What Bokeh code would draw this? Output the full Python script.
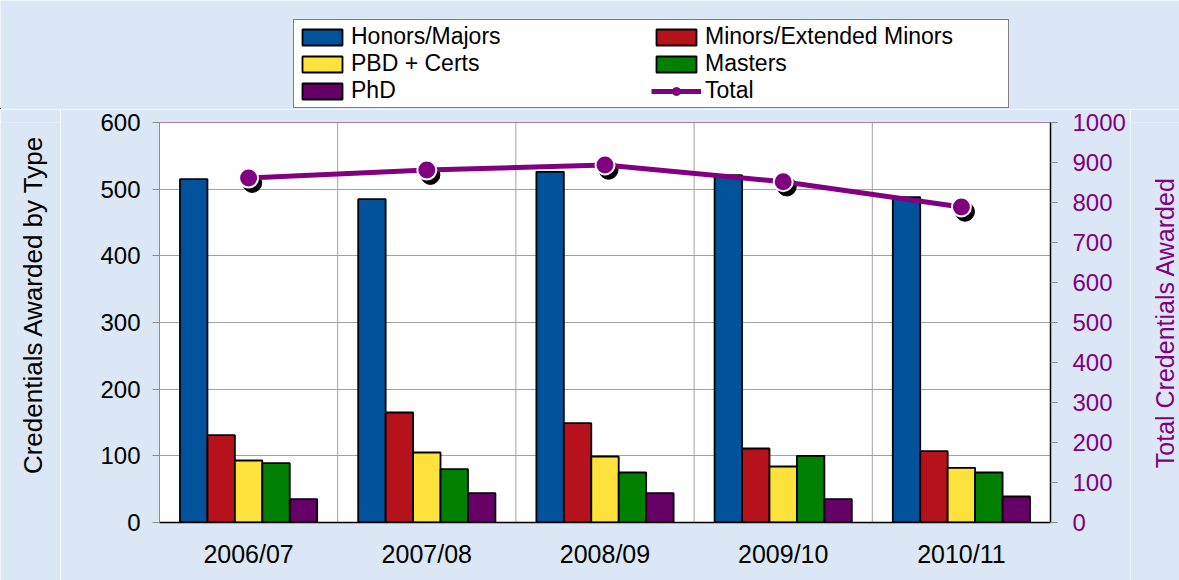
import math
from bokeh.plotting import figure
from bokeh.layouts import column, row
from bokeh.models import (Range1d, LinearAxis, FactorRange, Legend, LegendItem,
                          SingleIntervalTicker, ColumnDataSource)
from bokeh.transform import dodge
from bokeh.core.properties import value
from bokeh.embed import file_html
from bokeh.resources import INLINE

# ---- data ----
years = ["2006/07", "2007/08", "2008/09", "2009/10", "2010/11"]
honors = [515, 485, 526, 521, 488]
minors = [131, 165, 149, 111, 107]
pbd = [93, 105, 99, 84, 82]
masters = [89, 80, 75, 100, 75]
phd = [35, 44, 44, 35, 39]
total = [861, 881, 894, 852, 789]

series_names = ["Honors/Majors", "Minors/Extended Minors", "PBD + Certs", "Masters", "PhD"]
series_colors = ["#00529b", "#b5121b", "#fde23b", "#007f00", "#660066"]
offsets = [-0.308, -0.154, 0.0, 0.154, 0.308]

left_title = "Credentials Awarded by Type"
right_title = "Total Credentials Awarded"

FONT = "Liberation Sans"
BG = "#dbe7f5"
PURPLE = "#800080"

src = ColumnDataSource(dict(year=years, honors=honors, minors=minors, pbd=pbd,
                            masters=masters, phd=phd, total=total))
cols = ["honors", "minors", "pbd", "masters", "phd"]

LW, RW = 60, 49          # widths of the side title strips
TOP_H = 109              # height of the legend strip
P_TOP = 13               # space above the plot frame inside the row
ROW_H = P_TOP + 400 + 58

# ---------------- main chart ----------------
p = figure(x_range=FactorRange(*years), y_range=Range1d(0, 600),
           frame_width=891, frame_height=400,
           min_border_left=159 - LW, min_border_right=129 - RW,
           min_border_top=P_TOP, min_border_bottom=58,
           output_backend="svg", toolbar_location=None)
p.extra_y_ranges = {"right": Range1d(0, 1000)}

p.background_fill_color = "white"
p.border_fill_color = BG
p.outline_line_color = "#a47ca4"
p.outline_line_width = 1

p.xgrid.visible = False
p.ygrid.grid_line_color = "#a0a0a0"
p.ygrid.grid_line_width = 1
p.ygrid.ticker = SingleIntervalTicker(interval=100)

# category separators
sep_src = ColumnDataSource(dict(year=years[:-1], y0=[0] * 4, y1=[600] * 4))
p.segment(x0=dodge("year", 0.5, range=p.x_range), y0="y0",
          x1=dodge("year", 0.5, range=p.x_range), y1="y1",
          source=sep_src, line_color="#a0a0a0", line_width=1)

# bars
for col, color, off in zip(cols, series_colors, offsets):
    p.vbar(x=dodge("year", off, range=p.x_range), top=col, width=0.154,
           source=src, fill_color=color, line_color="black", line_width=1.8)

# total line with shadowed markers
p.scatter(x=dodge("year", 0.02, range=p.x_range), y=dodge("total", -12),
          source=src, y_range_name="right", size=19, fill_color="black",
          line_color="black")
p.line(x="year", y="total", source=src, y_range_name="right",
       line_color=PURPLE, line_width=5)
p.scatter(x="year", y="total", source=src, y_range_name="right", size=19,
          fill_color=PURPLE, line_color="white", line_width=2)

# left axis
yax = p.yaxis[0]
yax.ticker = SingleIntervalTicker(interval=100)
yax.minor_tick_line_color = None
yax.major_tick_in = 0
yax.major_tick_out = 7
yax.major_tick_line_color = "#8c8c8c"
yax.axis_line_color = "#a47ca4"
yax.major_label_text_font = FONT
yax.major_label_text_font_size = "24px"
yax.major_label_text_color = "black"
yax.major_label_standoff = 12

# right axis
rax = LinearAxis(y_range_name="right", ticker=SingleIntervalTicker(interval=100))
rax.minor_tick_line_color = None
rax.major_tick_in = 0
rax.major_tick_out = 7
rax.major_tick_line_color = "#8c8c8c"
rax.axis_line_color = "black"
rax.axis_line_width = 1.5
rax.major_label_text_font = FONT
rax.major_label_text_font_size = "24px"
rax.major_label_text_color = PURPLE
rax.major_label_standoff = 15
p.add_layout(rax, "right")

xax = p.xaxis[0]
xax.axis_line_color = "black"
xax.axis_line_width = 1.5
xax.major_tick_line_color = None
xax.minor_tick_line_color = None
xax.major_tick_out = 0
xax.major_tick_in = 0
xax.major_label_text_font = FONT
xax.major_label_text_font_size = "25px"
xax.major_label_text_color = "black"
xax.major_label_standoff = 17


def strip(width, height):
    f = figure(x_range=Range1d(0, width), y_range=Range1d(0, height),
               frame_width=width, frame_height=height,
               min_border=0, x_axis_type=None, y_axis_type=None,
               output_backend="svg", toolbar_location=None)
    f.background_fill_color = BG
    f.border_fill_color = BG
    f.outline_line_color = None
    f.xgrid.visible = False
    f.ygrid.visible = False
    return f


# ---------------- side title strips ----------------
lt = strip(LW, ROW_H)
lt.text(x=[32], y=[ROW_H - (291 - TOP_H)], text=[left_title], angle=math.pi / 2,
        text_font=value(FONT), text_font_size="26px", text_color="black",
        text_align="center", text_baseline="middle")

rt = strip(RW, ROW_H)
rt.text(x=[34], y=[ROW_H - (309 - TOP_H)], text=[right_title], angle=math.pi / 2,
        text_font=value(FONT), text_font_size="25px", text_color=PURPLE,
        text_align="center", text_baseline="middle")

# ---------------- legend strip ----------------
lg = strip(1179, TOP_H)
hidden = ColumnDataSource(dict(x=[-50], top=[-50], y=[-50]))
leg_rs = []
for color in series_colors:
    leg_rs.append(lg.vbar(x="x", top="top", width=1, source=hidden,
                          fill_color=color, line_color="black", line_width=1.8))
tl = lg.line(x="x", y="y", source=hidden, line_color=PURPLE, line_width=5)
tp = lg.scatter(x="x", y="y", source=hidden, size=13, fill_color=PURPLE,
                line_color=PURPLE)

items = [LegendItem(label=n, renderers=[r]) for n, r in zip(series_names, leg_rs)]
items.append(LegendItem(label="Total", renderers=[tl, tp]))
legend = Legend(items=items, location=(293, 1), orientation="horizontal", ncols=2,
                glyph_width=50, glyph_height=20, label_height=22, label_width=300,
                label_standoff=4, spacing=0, padding=3, margin=0,
                label_text_font=FONT, label_text_font_size="23px",
                label_text_color="black",
                background_fill_color="white", background_fill_alpha=1,
                border_line_color="black", border_line_width=1)
lg.add_layout(legend, "center")

layout = column(lg, row(lt, p, rt, spacing=0), spacing=0)
html = file_html(layout, INLINE)
html = html.replace("<body>", '<body style="background:%s">' % BG, 1)
open("out.html", "w").write(html)
